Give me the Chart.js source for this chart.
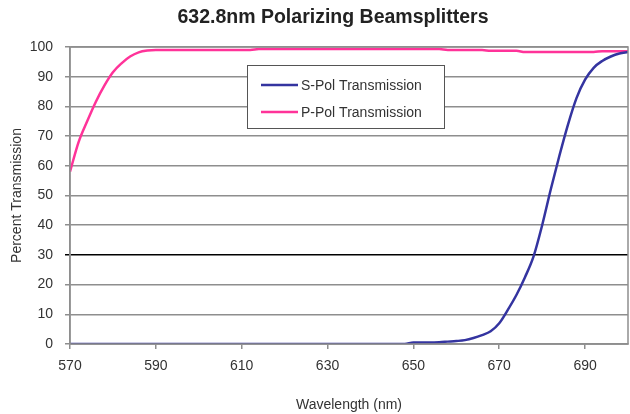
<!DOCTYPE html>
<html>
<head>
<meta charset="utf-8">
<script src="https://cdn.jsdelivr.net/npm/chart.js@4.4.1/dist/chart.umd.min.js"></script>
<style>
  html, body { margin: 0; padding: 0; background: #fff; }
  canvas { display: block; }
</style>
</head>
<body>
<canvas id="myChart" width="630" height="414"></canvas>
<script>
// wavelength samples (nm)
var wavelengths = [
    570, 572, 574, 576, 578, 580, 582, 584, 586, 588,
    590, 592, 594, 596, 598, 600, 602, 604, 606, 608,
    610, 612, 614, 616, 618, 620, 622, 624, 626, 628,
    630, 632, 634, 636, 638, 640, 642, 644, 646, 648,
    650, 652, 654, 656, 658, 660, 662, 664, 666, 668,
    670, 672, 674, 676, 678, 680, 682, 684, 686, 688,
    690, 692, 694, 696, 698, 700
];

// percent transmission
var sPol = [
    0, 0, 0, 0, 0, 0, 0, 0, 0, 0,
    0, 0, 0, 0, 0, 0, 0, 0, 0, 0,
    0, 0, 0, 0, 0, 0, 0, 0, 0, 0,
    0, 0, 0, 0, 0, 0, 0, 0, 0, 0,
    0.5, 0.5, 0.5, 0.6, 0.8, 1.0, 1.3, 2.0, 3.0, 4.3,
    7.0, 11.5, 16.5, 22.5, 29.5, 40, 52, 63.3, 73.8, 82.8,
    89, 93, 95.3, 96.8, 97.8, 98.3
];
var pPol = [
    58, 68, 75, 81.5, 87, 91.5, 94.5, 96.8, 98.2, 98.8,
    99, 99, 99, 99, 99, 99, 99, 99, 99, 99,
    99, 99, 99.3, 99.3, 99.3, 99.3, 99.3, 99.3, 99.3, 99.3,
    99.3, 99.3, 99.3, 99.3, 99.3, 99.3, 99.3, 99.3, 99.3, 99.3,
    99.3, 99.3, 99.3, 99.3, 99, 99, 99, 99, 99, 98.7,
    98.7, 98.7, 98.7, 98.3, 98.3, 98.3, 98.3, 98.3, 98.3, 98.3,
    98.3, 98.3, 98.6, 98.6, 98.6, 98.6
];

var chartTitle = '632.8nm Polarizing Beamsplitters';
var seriesNames = ['S-Pol Transmission', 'P-Pol Transmission'];
var xTicks = [570, 590, 610, 630, 650, 670, 690];

var blue = 'rgb(52, 52, 160)';
var pink = 'rgb(255, 51, 153)';
var gridGray = '#8e8e8e';
var textGray = '#333333';
var fontFamily = '"Liberation Sans", Arial, sans-serif';

function toPoints(values) {
    return wavelengths.map(function (w, i) { return { x: w, y: values[i] }; });
}

// title, frame round the plot area and the boxed legend inside it
var framePlugin = {
    id: 'frame',
    afterDraw: function (chart) {
        var c = chart.ctx, a = chart.chartArea;
        c.save();
        c.fillStyle = '#222';
        c.font = 'bold 19.5px ' + fontFamily;
        c.textAlign = 'center';
        c.textBaseline = 'middle';
        c.fillText(chartTitle, 333, 18);

        c.strokeStyle = gridGray;
        c.lineWidth = 1.5;
        c.strokeRect(a.left, a.top, a.right - a.left, a.bottom - a.top);

        // legend box
        var bx = 247, by = 65, bw = 197, bh = 63;
        c.fillStyle = '#fff';
        c.fillRect(bx, by, bw, bh);
        c.strokeStyle = '#555';
        c.lineWidth = 1;
        c.strokeRect(bx + 0.5, by + 0.5, bw, bh);
        var colors = [blue, pink];
        c.font = '14px ' + fontFamily;
        c.textAlign = 'left';
        seriesNames.forEach(function (name, i) {
            var yy = by + 20 + i * 27;
            c.strokeStyle = colors[i];
            c.lineWidth = 2.5;
            c.beginPath();
            c.moveTo(bx + 14, yy);
            c.lineTo(bx + 51, yy);
            c.stroke();
            c.fillStyle = textGray;
            c.fillText(name, bx + 54, yy + 1);
        });
        c.restore();
    }
};

var ctx = document.getElementById('myChart').getContext('2d');
var chart = new Chart(ctx, {
    type: 'line',
    data: {
        datasets: [{
            label: seriesNames[0],
            data: toPoints(sPol),
            borderColor: blue,
            borderWidth: 2.5,
            pointRadius: 0,
            cubicInterpolationMode: 'monotone',
            fill: false
        }, {
            label: seriesNames[1],
            data: toPoints(pPol),
            borderColor: pink,
            borderWidth: 2.5,
            pointRadius: 0,
            cubicInterpolationMode: 'monotone',
            fill: false
        }]
    },
    options: {
        responsive: false,
        animation: false,
        devicePixelRatio: 1,
        layout: { padding: { left: 9, right: 2, top: 47, bottom: 0 } },
        plugins: {
            legend: { display: false },
            tooltip: { enabled: false },
            title: { display: false }
        },
        scales: {
            x: {
                type: 'linear',
                min: 570,
                max: 700,
                afterBuildTicks: function (scale) {
                    scale.ticks = xTicks.map(function (v) { return { value: v }; });
                },
                afterFit: function (scale) { scale.height = 70; },
                grid: {
                    drawOnChartArea: false,
                    drawTicks: true,
                    tickLength: 5,
                    color: gridGray,
                    lineWidth: 1.5
                },
                border: { color: gridGray, width: 1.5 },
                ticks: {
                    color: textGray,
                    padding: 9,
                    maxRotation: 0,
                    autoSkip: false,
                    font: { family: fontFamily, size: 14 }
                },
                title: {
                    display: true,
                    text: 'Wavelength (nm)',
                    color: textGray,
                    font: { family: fontFamily, size: 14 },
                    padding: { top: 8, bottom: 0 }
                }
            },
            y: {
                min: 0,
                max: 100,
                afterFit: function (scale) { scale.width = 61; },
                ticks: {
                    stepSize: 10,
                    color: textGray,
                    padding: 12,
                    font: { family: fontFamily, size: 14 }
                },
                grid: {
                    tickLength: 5,
                    lineWidth: 1.5,
                    color: function (c) {
                        return c.tick && c.tick.value === 30 ? '#000' : gridGray;
                    }
                },
                border: { color: gridGray, width: 1.5 },
                title: {
                    display: true,
                    text: 'Percent Transmission',
                    color: textGray,
                    font: { family: fontFamily, size: 14 },
                    padding: { top: 0, bottom: 0 }
                }
            }
        }
    },
    plugins: [framePlugin]
});
</script>
</body>
</html>
